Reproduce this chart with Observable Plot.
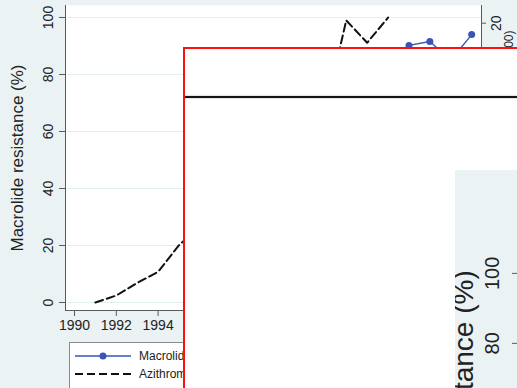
<!DOCTYPE html>
<html><head><meta charset="utf-8">
<script src="https://cdn.jsdelivr.net/npm/d3@7"></script>
<script src="https://cdn.jsdelivr.net/npm/@observablehq/plot@0.6"></script>
<style>
html,body{margin:0;padding:0;width:517px;height:388px;overflow:hidden;background:#eaf2f3;font-family:"Liberation Sans",Arial,sans-serif;}
#wrap{position:relative;width:517px;height:388px;overflow:hidden;}
#main{position:absolute;left:0;top:0;}
#legend{position:absolute;left:69px;top:342px;width:300px;height:70px;background:#fff;border:1px solid #8a8a8a;box-sizing:border-box;}
.row{position:absolute;left:0;height:18px;display:flex;align-items:center;font-size:12px;color:#222;white-space:nowrap;}
.row svg{margin-left:5px;margin-right:8px;}
#box{position:absolute;left:183px;top:47px;width:360px;height:360px;border:2px solid #ff1010;background:#fff;overflow:hidden;}
#rule{position:absolute;left:0;top:47px;width:100%;height:2px;background:#151515;box-shadow:0 0 1.5px #777;}
#inner{position:absolute;left:270px;top:121px;width:200px;height:218px;}
#inner svg{max-width:none !important;}
</style></head>
<body>
<div id="wrap">
  <div id="main"></div>
  <div id="legend"></div>
  <div id="box"><div id="rule"></div><div id="inner"></div></div>
</div>
<script>
// ---- data ----
const leftTitle = "Macrolide resistance (%)";
const rightTitle = "Azithromycin use (DDD/1000)";
const legendLabels = ["Macrolide resistance", "Azithromycin use"];
const xTicks = [1990, 1992, 1994, 1996, 1998, 2000, 2002, 2004, 2006, 2008];
const yTicks = [0, 20, 40, 60, 80, 100];
const rightTicks = [0, 5, 10, 15, 20];
const azithYears = [1991, 1992, 1993, 1994, 1995, 2002, 2003, 2004, 2005];
const azithUse   = [0, 0.5, 1.4, 2.2, 4.1, 13.7, 20.2, 18.6, 20.4];
const macroYears = [2006, 2007, 2008, 2009];
const macroRes   = [90.2, 91.6, 85, 94.0];

const azith = azithYears.map((year, i) => ({year, v: azithUse[i]}));
const macro = macroYears.map((year, i) => ({year, v: macroRes[i]}));

const blue = "#3a55b4";
const axisCol = "#5a5a5a";
const gridCol = "#e3eef1";
const k = 98 / 20; // right axis: 20 aligns with 98 on the left axis
const xDomain = [1989.57, 2009.47];
const yDomain = [-2.81, 104.21];

const main = Plot.plot({
  width: 517, height: 340,
  marginLeft: 65, marginRight: 36, marginTop: 5, marginBottom: 30,
  style: {background: "transparent", fontFamily: '"Liberation Sans", Arial, sans-serif', color: "#222"},
  x: {domain: xDomain, axis: null},
  y: {domain: yDomain, axis: null},
  marks: [
    Plot.frame({fill: "white", stroke: null}),
    Plot.gridY(yTicks, {stroke: gridCol, strokeOpacity: 1}),
    Plot.axisY(yTicks, {tickSize: 6, tickFormat: () => "", label: null, stroke: axisCol}),
    Plot.text(yTicks, {y: d => d, text: d => String(d), frameAnchor: "left", rotate: -90, dx: -17, fontSize: 14, textAnchor: "middle", lineAnchor: "middle", fill: "#222"}),
    Plot.axisX(xTicks, {tickSize: 6, tickPadding: 4, fontSize: 14, label: null, tickFormat: d => String(d), stroke: axisCol}),
    Plot.axisY(rightTicks.map(v => v * k), {anchor: "right", tickSize: 4, tickFormat: () => "", label: null, stroke: axisCol}),
    Plot.text(rightTicks, {y: d => d * k, text: d => String(d), frameAnchor: "right", rotate: -90, dx: 15, fontSize: 14, textAnchor: "middle", lineAnchor: "middle", fill: "#222"}),
    Plot.text([rightTitle], {frameAnchor: "top-right", rotate: -90, dx: 28, dy: 25, textAnchor: "end", lineAnchor: "middle", fontSize: 12, fill: "#222"}),
    Plot.text([leftTitle], {frameAnchor: "left", rotate: -90, dx: -48, fontSize: 17, textAnchor: "middle", lineAnchor: "middle", fill: "#222"}),
    Plot.ruleX([xDomain[0]], {stroke: axisCol}),
    Plot.ruleX([xDomain[1]], {stroke: axisCol}),
    Plot.ruleY([yDomain[0]], {stroke: axisCol}),
    Plot.line(azith, {x: "year", y: d => d.v * k, stroke: "#111", strokeWidth: 2, strokeDasharray: "8,4"}),
    Plot.line(macro, {x: "year", y: "v", stroke: blue, strokeWidth: 1.4}),
    Plot.dot(macro, {x: "year", y: "v", r: 3.5, fill: blue, stroke: null})
  ]
});
document.getElementById("main").appendChild(main);

// inner (zoomed) copy visible through the overlay box
const inner = Plot.plot({
  width: 200, height: 218,
  marginLeft: 62, marginRight: 0, marginTop: 0, marginBottom: 0,
  style: {background: "#eaf2f3", fontFamily: '"Liberation Sans", Arial, sans-serif', color: "#222", maxWidth: "none"},
  x: {domain: xDomain, axis: null},
  y: {domain: [67.1, 129.4], axis: null},
  marks: [
    Plot.axisY(yTicks, {tickSize: 5, tickFormat: () => "", label: null, stroke: axisCol}),
    Plot.text(yTicks, {y: d => d, text: d => String(d), frameAnchor: "left", rotate: -90, dx: -25, fontSize: 20, textAnchor: "middle", lineAnchor: "middle", fill: "#222"}),
    Plot.text([leftTitle], {y: [100.9], frameAnchor: "left", rotate: -90, dx: -53, fontSize: 28, textAnchor: "end", lineAnchor: "middle", fill: "#222"})
  ]
});
document.getElementById("inner").appendChild(inner);

// legend
const lg = document.getElementById("legend");
const sw = [
  `<svg width="56" height="12"><line x1="0" y1="6" x2="56" y2="6" stroke="${blue}" stroke-width="1.4"/><circle cx="28" cy="6" r="3.5" fill="${blue}"/></svg>`,
  `<svg width="56" height="12"><line x1="0" y1="6" x2="56" y2="6" stroke="#111" stroke-width="2" stroke-dasharray="8,4"/></svg>`
];
legendLabels.forEach((t, i) => {
  const r = document.createElement("div");
  r.className = "row";
  r.style.top = (4 + i * 18) + "px";
  r.innerHTML = sw[i] + "<span>" + t + "</span>";
  lg.appendChild(r);
});
</script>
</body></html>
